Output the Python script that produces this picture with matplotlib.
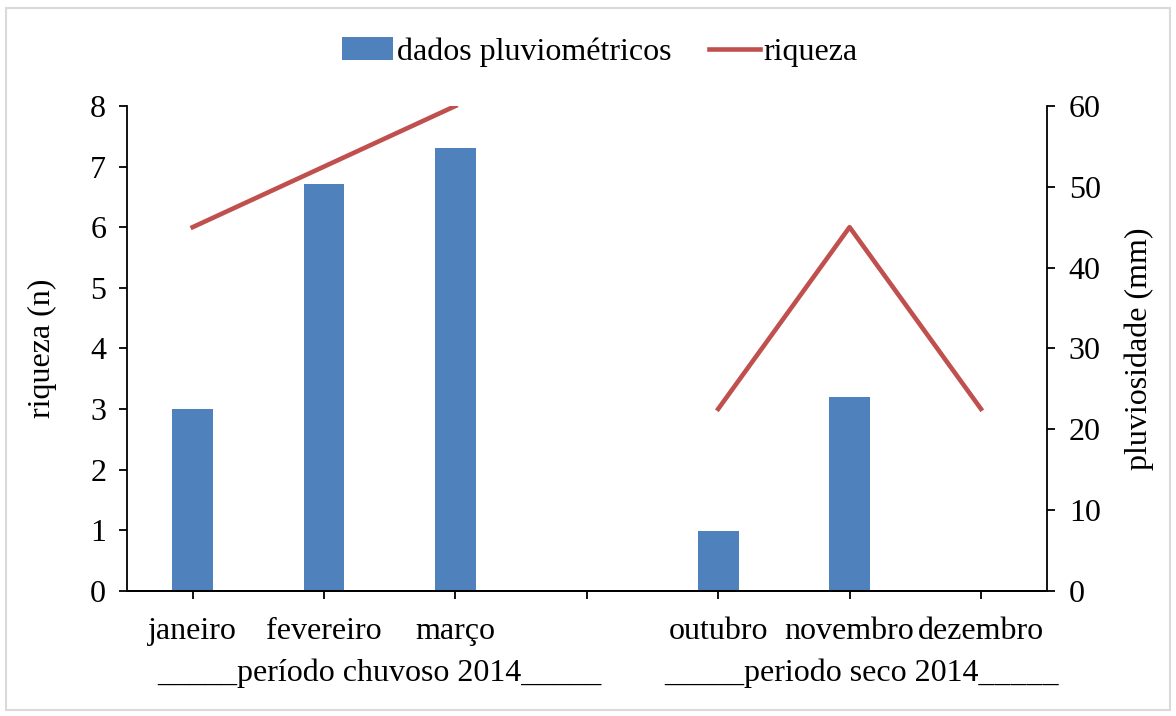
import numpy as np
import matplotlib.pyplot as plt
from matplotlib.patches import Rectangle

plt.rcParams['font.family'] = ['Liberation Serif', 'DejaVu Serif']

meses = ['janeiro', 'fevereiro', 'março', '', 'outubro', 'novembro', 'dezembro']
chuva_mm = [22.5, 50.3, 54.8, 0, 7.4, 24.0, 0]
riqueza = [6, 7, 8, np.nan, 3, 6, 3]
periodos = ['_____período chuvoso 2014_____', '_____periodo seco 2014_____']

azul = '#4F81BD'
vermelho = '#C0504D'
fs = 23

fig = plt.figure(figsize=(11.76, 7.16), dpi=100)
ax = fig.add_axes([0.108, 0.175, 0.782, 0.677])
ax2 = ax.twinx()

x = np.arange(len(meses))
barras = ax2.bar(x, chuva_mm, width=0.31, color=azul, label='dados pluviométricos')
linha, = ax.plot(x, riqueza, color=vermelho, lw=3.3, label='riqueza')

# linha de riqueza por cima das barras
ax.set_zorder(ax2.get_zorder() + 1)
ax.patch.set_visible(False)

ax.set_xlim(-0.5, len(meses) - 0.5)
ax.set_ylim(0, 8)
ax2.set_ylim(0, 60)
ax.set_yticks(range(0, 9))
ax2.set_yticks(range(0, 61, 10))
ax.set_xticks(x)
ax.set_xticklabels(meses)

for a in (ax, ax2):
    a.spines['top'].set_visible(False)
    for s in a.spines.values():
        s.set_linewidth(1.3)
ax.spines['right'].set_visible(False)
ax2.spines['left'].set_visible(False)

ax.tick_params(axis='y', labelsize=fs, length=6, width=1.3, pad=9, direction='out')
ax.tick_params(axis='x', labelsize=fs, length=6, width=1.3, pad=13, direction='out')
ax2.tick_params(axis='y', labelsize=fs, length=6, width=1.3, pad=10, direction='out')

ax.set_ylabel('riqueza (n)', fontsize=fs, labelpad=24)
ax2.set_ylabel('pluviosidade (mm)', fontsize=fs, labelpad=17)

fig.text(379 / 1176, 1 - 673 / 716, periodos[0], fontsize=fs, ha='center', va='center')
fig.text(862 / 1176, 1 - 673 / 716, periodos[1], fontsize=fs, ha='center', va='center')

fig.legend(handles=[barras, linha], loc='center', bbox_to_anchor=(600 / 1176, 1 - 52 / 716),
           ncol=2, frameon=False, fontsize=fs, handlelength=1.6, handletextpad=0.1,
           columnspacing=1.2)

# moldura do gráfico
fig.patches.append(Rectangle((6 / 1176, 6 / 716), 1 - 12 / 1176, 1 - 14 / 716,
                             transform=fig.transFigure, fill=False,
                             edgecolor='#D9D9D9', lw=1.5))

fig.savefig('out.png', dpi=100)
